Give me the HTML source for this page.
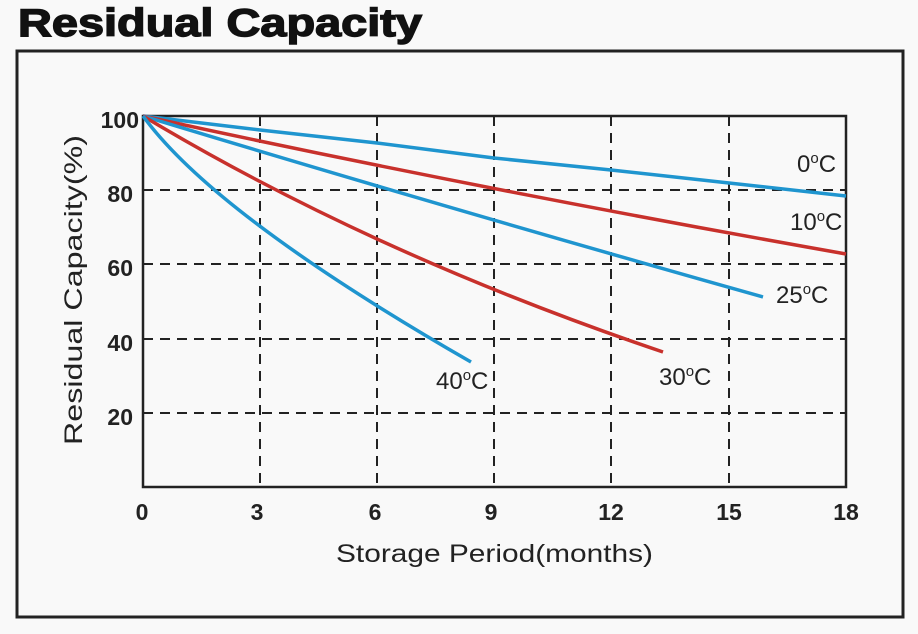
<!DOCTYPE html>
<html><head><style>
body{margin:0;background:#f9f9f9;width:918px;height:629px;overflow:hidden;font-family:"Liberation Sans",Arial,sans-serif}
</style></head><body>
<svg width="918" height="629" viewBox="0 0 918 629" xmlns="http://www.w3.org/2000/svg">
<rect width="918" height="629" fill="#f9f9f9"/>
<text x="18" y="36" font-family="Liberation Sans,Arial,sans-serif" font-weight="bold" font-size="39" fill="#111" textLength="404" lengthAdjust="spacingAndGlyphs" stroke="#111" stroke-width="1.4">Residual Capacity</text>
<rect x="17" y="51" width="886" height="566" fill="none" stroke="#222" stroke-width="3"/>
<g stroke="#222" stroke-width="2" stroke-dasharray="10,7" fill="none">
<line x1="143" y1="190" x2="846" y2="190"/>
<line x1="143" y1="264" x2="846" y2="264"/>
<line x1="143" y1="339" x2="846" y2="339"/>
<line x1="143" y1="413" x2="846" y2="413"/>
<line x1="260" y1="116" x2="260" y2="487"/>
<line x1="377" y1="116" x2="377" y2="487"/>
<line x1="494" y1="116" x2="494" y2="487"/>
<line x1="611" y1="116" x2="611" y2="487"/>
<line x1="729" y1="116" x2="729" y2="487"/>
</g>
<rect x="143" y="116" width="703" height="371" fill="none" stroke="#222" stroke-width="2.5"/>
<g fill="none" stroke-width="3.5" stroke-linejoin="round">
<polyline points="143,116 260,130 377,143 494,158 611,170 729,183 846,196" stroke="#1f95cf"/>
<path d="M143 116 Q473 188 846 254" stroke="#c8312c"/>
<path d="M143 116 Q433 204 763 297" stroke="#1f95cf"/>
<path d="M143 116 Q373 254 663 352" stroke="#c8312c"/>
<path d="M143 116 Q215 215 471 362" stroke="#1f95cf"/>
</g>
<g font-size="24" fill="#222">
<text x="797" y="172">0<tspan dy="-9" font-size="15">o</tspan><tspan dy="9">C</tspan></text>
<text x="790" y="230">10<tspan dy="-9" font-size="15">o</tspan><tspan dy="9">C</tspan></text>
<text x="776" y="303">25<tspan dy="-9" font-size="15">o</tspan><tspan dy="9">C</tspan></text>
<text x="659" y="385">30<tspan dy="-9" font-size="15">o</tspan><tspan dy="9">C</tspan></text>
<text x="436" y="389">40<tspan dy="-9" font-size="15">o</tspan><tspan dy="9">C</tspan></text>
</g>
<g font-size="23" font-weight="bold" fill="#222" text-anchor="end">
<text x="139" y="128">100</text>
<text x="133" y="202">80</text>
<text x="133" y="276">60</text>
<text x="133" y="351">40</text>
<text x="133" y="425">20</text>
</g>
<g font-size="23" font-weight="bold" fill="#222" text-anchor="middle">
<text x="142" y="520">0</text>
<text x="257" y="520">3</text>
<text x="375" y="520">6</text>
<text x="491" y="520">9</text>
<text x="611" y="520">12</text>
<text x="729" y="520">15</text>
<text x="846" y="520">18</text>
</g>
<text x="336" y="562" font-size="25" fill="#222" textLength="317" lengthAdjust="spacingAndGlyphs">Storage Period(months)</text>
<text transform="translate(82,445) rotate(-90)" font-size="25" fill="#222" textLength="310" lengthAdjust="spacingAndGlyphs">Residual Capacity(%)</text>
</svg>
</body></html>
